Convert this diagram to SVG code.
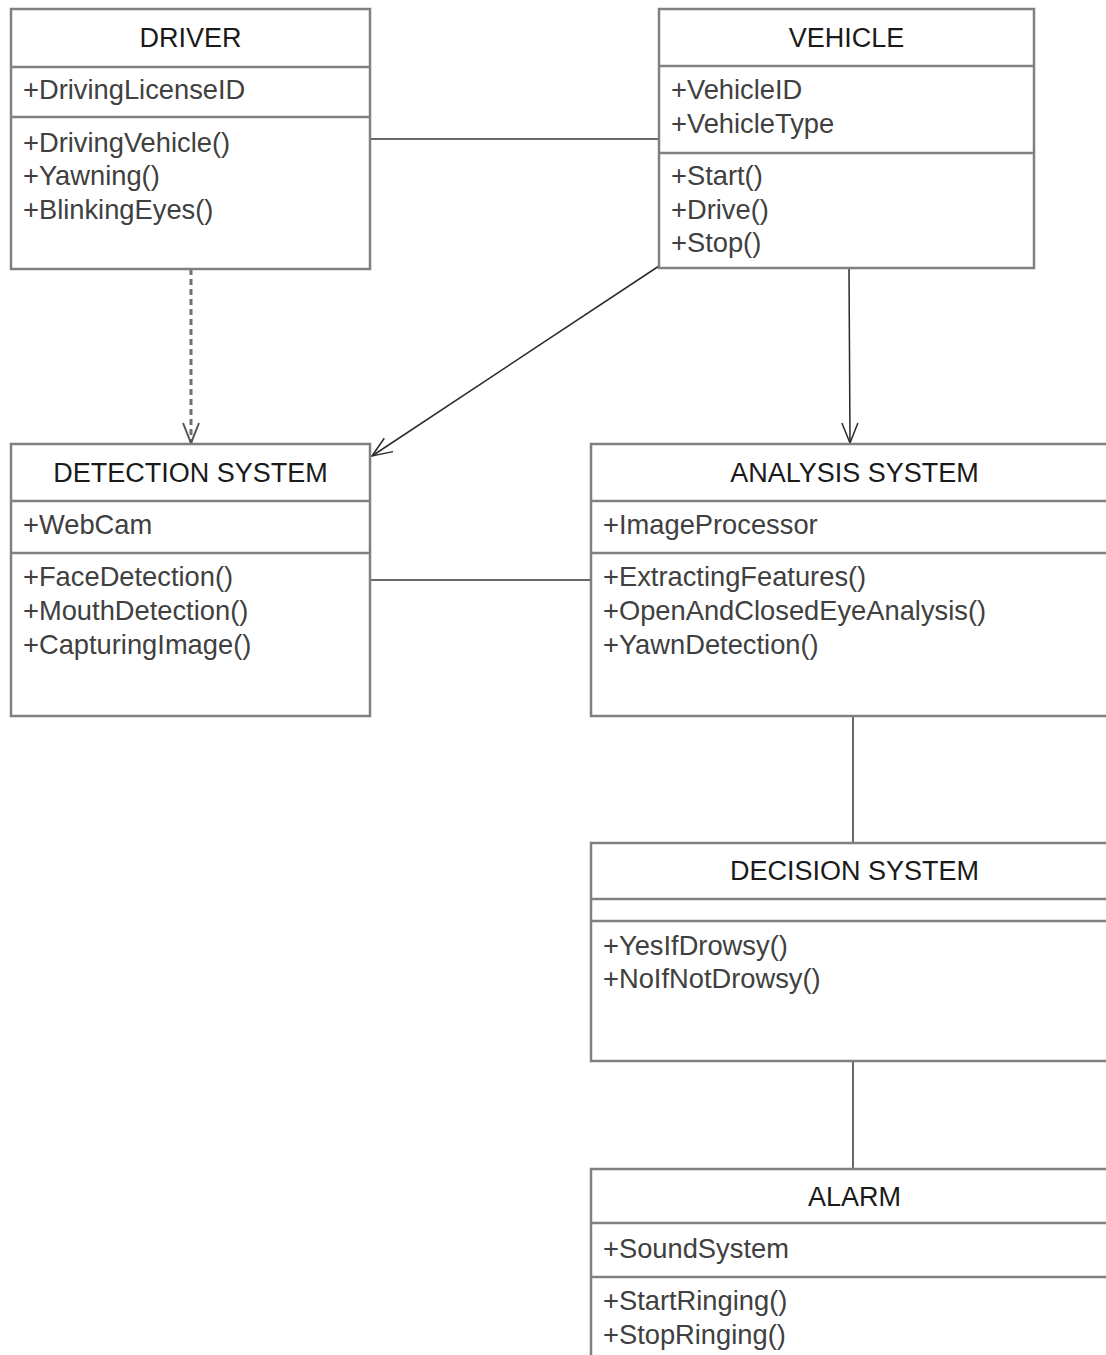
<svg xmlns="http://www.w3.org/2000/svg" width="1106" height="1355" viewBox="0 0 1106 1355">
<style>
.box{fill:#ffffff;stroke:#808080;stroke-width:2.5}
.div{stroke:#808080;stroke-width:2.5}
.title{font-family:"Liberation Sans",Arial,sans-serif;font-size:27px;fill:#1a1a1a;text-anchor:middle}
.item{font-family:"Liberation Sans",Arial,sans-serif;font-size:27.3px;fill:#404040}
.assoc{stroke:#6a6a6a;stroke-width:2;fill:none}
.dep{stroke:#707070;stroke-width:3;stroke-dasharray:6 4;fill:none}
.nav{stroke:#2a2a2a;stroke-width:1.5;fill:none}
</style>
<defs>
<marker id="openGray" markerUnits="userSpaceOnUse" markerWidth="22" markerHeight="18" refX="20" refY="8" orient="auto" overflow="visible">
<path d="M0,0 L20,8 L0,16" fill="none" stroke="#555555" stroke-width="2" stroke-dasharray="none"/>
</marker>
<marker id="openDark" markerUnits="userSpaceOnUse" markerWidth="22" markerHeight="18" refX="20" refY="8" orient="auto" overflow="visible">
<path d="M0,0 L20,8 L0,16" fill="none" stroke="#2a2a2a" stroke-width="1.5"/>
</marker>
</defs>
<rect width="1106" height="1355" fill="#ffffff"/>
<g id="connectors">
<line class="assoc" x1="370" y1="139" x2="659" y2="139"/>
<line class="dep" x1="191" y1="269" x2="191" y2="443" marker-end="url(#openGray)"/>
<line class="nav" x1="659" y1="266" x2="372" y2="456" marker-end="url(#openDark)"/>
<line class="nav" x1="849" y1="268" x2="850" y2="443" marker-end="url(#openDark)"/>
<line class="assoc" x1="370" y1="580" x2="591" y2="580"/>
<line class="assoc" x1="853" y1="716" x2="853" y2="843"/>
<line class="assoc" x1="853" y1="1061" x2="853" y2="1169"/>
</g>
<g id="driver">
<rect class="box" x="11" y="9" width="359" height="260"/>
<line class="div" x1="11" y1="67" x2="370" y2="67"/>
<line class="div" x1="11" y1="117" x2="370" y2="117"/>
<text class="title" x="190.5" y="47">DRIVER</text>
<text class="item" x="23" y="99">+DrivingLicenseID</text>
<text class="item" x="23" y="152">+DrivingVehicle()</text>
<text class="item" x="23" y="185">+Yawning()</text>
<text class="item" x="23" y="219">+BlinkingEyes()</text>
</g>
<g id="vehicle">
<rect class="box" x="659" y="9" width="375" height="259"/>
<line class="div" x1="659" y1="66" x2="1034" y2="66"/>
<line class="div" x1="659" y1="153" x2="1034" y2="153"/>
<text class="title" x="846.5" y="47">VEHICLE</text>
<text class="item" x="671" y="99">+VehicleID</text>
<text class="item" x="671" y="133">+VehicleType</text>
<text class="item" x="671" y="185">+Start()</text>
<text class="item" x="671" y="219">+Drive()</text>
<text class="item" x="671" y="252">+Stop()</text>
</g>
<g id="detection-system">
<rect class="box" x="11" y="444" width="359" height="272"/>
<line class="div" x1="11" y1="501" x2="370" y2="501"/>
<line class="div" x1="11" y1="553" x2="370" y2="553"/>
<text class="title" x="190.5" y="482">DETECTION SYSTEM</text>
<text class="item" x="23" y="534">+WebCam</text>
<text class="item" x="23" y="586">+FaceDetection()</text>
<text class="item" x="23" y="620">+MouthDetection()</text>
<text class="item" x="23" y="654">+CapturingImage()</text>
</g>
<g id="analysis-system">
<rect class="box" x="591" y="444" width="527" height="272"/>
<line class="div" x1="591" y1="501" x2="1118" y2="501"/>
<line class="div" x1="591" y1="553" x2="1118" y2="553"/>
<text class="title" x="854.5" y="482">ANALYSIS SYSTEM</text>
<text class="item" x="603" y="534">+ImageProcessor</text>
<text class="item" x="603" y="586">+ExtractingFeatures()</text>
<text class="item" x="603" y="620">+OpenAndClosedEyeAnalysis()</text>
<text class="item" x="603" y="654">+YawnDetection()</text>
</g>
<g id="decision-system">
<rect class="box" x="591" y="843" width="527" height="218"/>
<line class="div" x1="591" y1="899" x2="1118" y2="899"/>
<line class="div" x1="591" y1="921" x2="1118" y2="921"/>
<text class="title" x="854.5" y="880">DECISION SYSTEM</text>
<text class="item" x="603" y="955">+YesIfDrowsy()</text>
<text class="item" x="603" y="988">+NoIfNotDrowsy()</text>
</g>
<g id="alarm">
<rect class="box" x="591" y="1169" width="527" height="220"/>
<line class="div" x1="591" y1="1223" x2="1118" y2="1223"/>
<line class="div" x1="591" y1="1277" x2="1118" y2="1277"/>
<text class="title" x="854.5" y="1206">ALARM</text>
<text class="item" x="603" y="1258">+SoundSystem</text>
<text class="item" x="603" y="1310">+StartRinging()</text>
<text class="item" x="603" y="1344">+StopRinging()</text>
</g>
</svg>
